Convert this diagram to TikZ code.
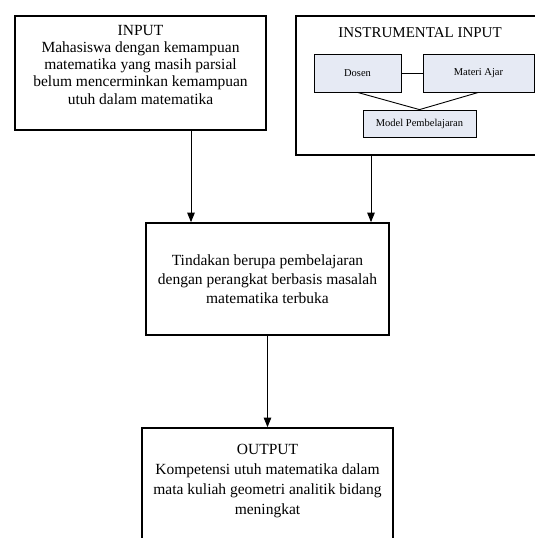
\documentclass[tikz,border=0pt]{standalone}
\usepackage{fontspec}
\setmainfont{Liberation Serif}
\usetikzlibrary{arrows.meta}
\definecolor{innerfill}{RGB}{230,234,244}
\tikzset{
  bigbox/.style={draw=black, line width=1.7pt, rectangle, inner sep=0pt},
  smallbox/.style={draw=black, line width=0.8pt, fill=innerfill, rectangle, inner sep=0pt, font=\fontsize{10.5}{12}\selectfont},
  txt/.style={align=center, inner sep=0pt},
  arr/.style={line width=0.9pt, -{Triangle[length=9.5pt,width=7.5pt]}},
  link/.style={line width=0.9pt}
}
\begin{document}
\begin{tikzpicture}[x=1pt,y=-1pt]
\useasboundingbox (0,0) rectangle (535,538);
\clip (0,0) rectangle (535,538);
% main boxes
\node[bigbox, minimum width=251pt, minimum height=114pt] (input) at (140.5,73) {};
\node[txt, anchor=north, font=\fontsize{15.5}{17.3}\selectfont] (inputtxt) at ([yshift=-9.5pt]input.north)
  {INPUT\\Mahasiswa dengan kemampuan\\matematika yang masih parsial\\belum mencerminkan kemampuan\\utuh dalam matematika};

\node[bigbox, minimum width=248pt, minimum height=139pt] (instr) at (420,85.5) {};
\node[txt, anchor=north, font=\fontsize{15}{17}\selectfont] (instrtxt) at ([yshift=-12pt]instr.north) {INSTRUMENTAL INPUT};

\node[smallbox, minimum width=87pt, minimum height=38pt] (dosen) at (357.5,73) {Dosen};
\node[smallbox, minimum width=111pt, minimum height=38pt] (materi) at (478.5,73) {Materi Ajar};
\node[smallbox, minimum width=113pt, minimum height=27pt] (model) at (419.5,123.5) {Model Pembelajaran};

\node[bigbox, minimum width=243pt, minimum height=112pt, align=center, font=\fontsize{15.5}{19}\selectfont] (mid) at (267.5,279)
  {Tindakan berupa pembelajaran\\dengan perangkat berbasis masalah\\matematika terbuka};

\node[bigbox, minimum width=251pt, minimum height=140pt] (output) at (267.5,498) {};
\node[txt, anchor=north, font=\fontsize{15.5}{20}\selectfont] (outputtxt) at ([yshift=-16.5pt]output.north)
  {OUTPUT\\Kompetensi utuh matematika dalam\\mata kuliah geometri analitik bidang\\meningkat};

% inner links
\draw[link] (dosen.east) -- (materi.west);
\draw[link] (dosen.south) -- (model.north) -- (materi.south);

% arrows
\draw[arr] ([xshift=50.5pt]input.south) -- ([xshift=50.5pt]input.south |- mid.north);
\draw[arr] ([xshift=-49pt]instr.south) -- ([xshift=-49pt]instr.south |- mid.north);
\draw[arr] (mid.south) -- (output.north);
\end{tikzpicture}
\end{document}
